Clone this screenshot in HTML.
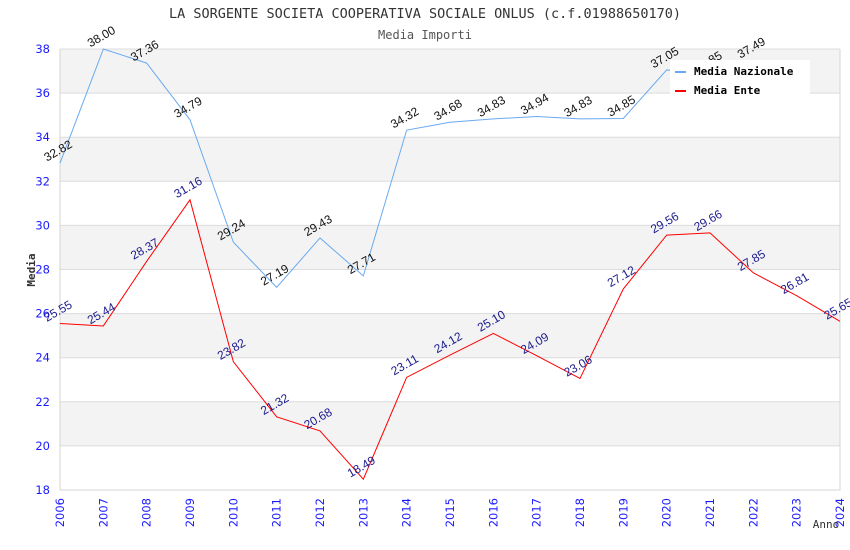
<!DOCTYPE html>
<html><head><meta charset="utf-8"><style>
body{margin:0;background:#fff;}
svg{display:block;}
</style></head><body>
<svg id="chart" width="850" height="550" xmlns="http://www.w3.org/2000/svg">
<text x="425" y="18" text-anchor="middle" font-family="DejaVu Sans Mono, monospace" font-size="13.5" fill="#333">LA SORGENTE SOCIETA COOPERATIVA SOCIALE ONLUS (c.f.01988650170)</text>
<text x="425" y="39" text-anchor="middle" font-family="DejaVu Sans Mono, monospace" font-size="12" fill="#555">Media Importi</text>
<g id="bands"></g><g id="grid"></g><g id="axes"></g><g id="series"></g><g id="labels"></g>
<text x="35" y="270" text-anchor="middle" transform="rotate(-90 35 270)" font-family="DejaVu Sans Mono, monospace" font-weight="bold" font-size="11" fill="#333">Media</text>
<text x="826" y="528" text-anchor="middle" font-family="DejaVu Sans Mono, monospace" font-size="11" fill="#333">Anno</text>
<g>
<rect x="670" y="60" width="140" height="34" fill="#fff"/>
<line x1="675" y1="72" x2="686" y2="72" stroke="#6aaaf0" stroke-width="2"/>
<text x="694" y="75" font-family="DejaVu Sans Mono, monospace" font-weight="bold" font-size="11" fill="#000">Media Nazionale</text>
<line x1="675" y1="91" x2="686" y2="91" stroke="#ff0000" stroke-width="2"/>
<text x="694" y="94" font-family="DejaVu Sans Mono, monospace" font-weight="bold" font-size="11" fill="#000">Media Ente</text>
</g>
</svg>
<script>
const years = [2006,2007,2008,2009,2010,2011,2012,2013,2014,2015,2016,2017,2018,2019,2020,2021,2022,2023,2024];
const nazionale = [32.82,38.00,37.36,34.79,29.24,27.19,29.43,27.71,34.32,34.68,34.83,34.94,34.83,34.85,37.05,36.85,37.49];
const ente = [25.55,25.44,28.37,31.16,23.82,21.32,20.68,18.49,23.11,24.12,25.10,24.09,23.06,27.12,29.56,29.66,27.85,26.81,25.65];
const yTicks = [18,20,22,24,26,28,30,32,34,36,38];
const NS='http://www.w3.org/2000/svg';
const L=60,R=840,T=49,B=490,yMin=18,yMax=38;
const xs=i=>L+(R-L)*(years[i]-years[0])/(years[years.length-1]-years[0]);
const ys=v=>B-(B-T)*(v-yMin)/(yMax-yMin);
function mk(tag,attrs,parent){const e=document.createElementNS(NS,tag);for(const k in attrs)e.setAttribute(k,attrs[k]);const p=document.getElementById(parent);if(parent==='labels'){}p.appendChild(e);return e;}
for(let i=0;i<yTicks.length-1;i++){
  if(i%2===1){const r=mk('rect',{x:L,y:ys(yTicks[i+1]),width:R-L,height:ys(yTicks[i])-ys(yTicks[i+1]),fill:'#f3f3f3'},'bands');
  
  }
}
yTicks.forEach(t=>{
  const g=mk('line',{x1:L,x2:R,y1:ys(t),y2:ys(t),stroke:'#dcdcdc','stroke-width':1},'grid');
  
  
  const tx=mk('text',{x:L-10,y:ys(t)+4,'text-anchor':'end','font-family':'DejaVu Sans, sans-serif','font-size':11.5,fill:'#1a1aff'},'axes');
  tx.textContent=t;
  
  
});
const ax=mk('path',{d:`M${L} ${T}V${B}H${R}V${T}`,fill:'none',stroke:'#d6d6d6','stroke-width':1},'axes');


years.forEach((y,i)=>{
  const x=xs(i);
  const tx=mk('text',{x:x+4,y:B+8,'text-anchor':'end',transform:`rotate(-90 ${x+4} ${B+8})`,'font-family':'DejaVu Sans, sans-serif','font-size':11.5,fill:'#1a1aff'},'axes');
  tx.textContent=y;
  
  
});
function series(vals,color,labColor,name){
  const p=mk('polyline',{points:vals.map((v,i)=>xs(i)+','+ys(v)).join(' '),fill:'none',stroke:color,'stroke-width':1},'series');
  
  
  vals.forEach((v,i)=>{
    const x=xs(i),y=ys(v)-9;
    const t=mk('text',{x:x,y:y,'text-anchor':'middle',transform:`rotate(-30 ${x} ${y})`,'font-family':'Liberation Sans, sans-serif','font-size':12,fill:labColor},'labels');
    t.textContent=v.toFixed(2);
    
    
  });
}
series(nazionale,'#6aaaf0','#111','nazionale');
series(ente,'#ff0000','#1a1a8c','ente');
</script>
</body></html>
